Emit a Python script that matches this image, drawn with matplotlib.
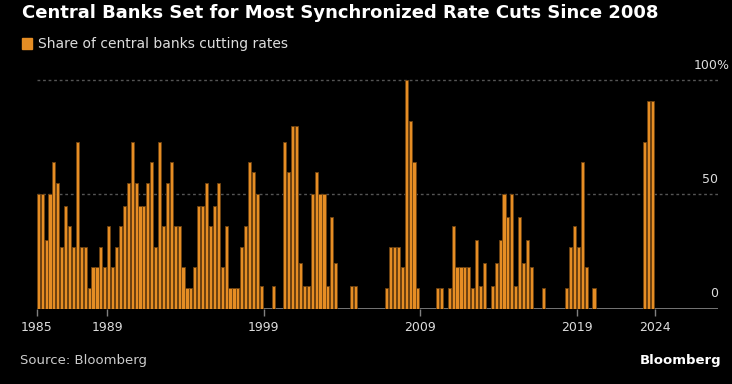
import matplotlib
matplotlib.use('Agg')
import matplotlib.pyplot as plt
from matplotlib.patches import Rectangle

# share of central banks cutting rates, quarterly, first bar = 1984 Q3
share = [50, 50, 30, 50, 64, 55, 27, 45, 36, 27, 73, 27, 27, 9, 18, 18,
         27, 18, 36, 18, 27, 36, 45, 55, 73, 55, 45, 45, 55, 64, 27, 73,
         36, 55, 64, 36, 36, 18, 9, 9, 18, 45, 45, 55, 36, 45, 55, 18,
         36, 9, 9, 9, 27, 36, 64, 60, 50, 10, 0, 0, 10, 0, 0, 73,
         60, 80, 80, 20, 10, 10, 50, 60, 50, 50, 10, 40, 20, 0, 0, 0,
         10, 10, 0, 0, 0, 0, 0, 0, 0, 9, 27, 27, 27, 18, 100, 82,
         64, 9, 0, 0, 0, 0, 9, 9, 0, 9, 36, 18, 18, 18, 18, 9,
         30, 10, 20, 0, 10, 20, 30, 50, 40, 50, 10, 40, 20, 30, 18, 0,
         0, 9, 0, 0, 0, 0, 0, 9, 27, 36, 27, 64, 18, 0, 9, 0,
         0, 0, 0, 0, 0, 0, 0, 0, 0, 0, 0, 73, 91, 91]

tick_labels = ['1985', '1989', '1999', '2009', '2019', '2024']
tick_pos = [0, 18, 58, 98, 138, 158]

orange = '#e58d24'
x = list(range(len(share)))

fig = plt.figure(figsize=(7.32, 3.84), dpi=100, facecolor='black')
ax = fig.add_axes([0.0501, 0.1966, 0.9304, 0.6003])
ax.set_facecolor('black')

ax.axhline(0, color='#808080', lw=2, zorder=1)
for g in [50, 100]:
    ax.axhline(g, color='#555555', lw=1, ls=(0, (2, 2)), zorder=0)

ax.bar(x, share, width=0.8, align='edge', color=orange, edgecolor='#6e4210',
       linewidth=0.6, zorder=2)

ax.set_xlim(0, 174)
ax.set_ylim(0, 101)
for s in ax.spines.values():
    s.set_visible(False)
ax.set_yticks([])
ax.set_xticks(tick_pos, tick_labels)
ax.tick_params(axis='x', colors='#808080', length=5, width=1,
               labelcolor='#dddddd', labelsize=9, pad=4)

# y labels above gridlines, on the right
for v in [0, 50, 100]:
    ax.annotate(str(v), xy=(1, v), xycoords=('axes fraction', 'data'),
                xytext=(0, 10.5), textcoords='offset points', ha='right',
                va='center', color='#dddddd', fontsize=9)
ax.annotate('%', xy=(1, 100), xycoords=('axes fraction', 'data'),
            xytext=(-0.8, 10.5), textcoords='offset points', ha='left',
            va='center', color='#dddddd', fontsize=9)

fig.text(0.030, 0.966, 'Central Banks Set for Most Synchronized Rate Cuts Since 2008',
         color='white', fontsize=13, weight='bold', va='center')
fig.add_artist(Rectangle((22 / 732, 1 - 49 / 384), 10 / 732, 11 / 384,
                         transform=fig.transFigure, color=orange))
fig.text(0.0519, 0.885, 'Share of central banks cutting rates',
         color='#dddddd', fontsize=10, va='center')
fig.text(0.027, 0.062, 'Source: Bloomberg', color='#cccccc', fontsize=9.5, va='center')
fig.text(0.986, 0.061, 'Bloomberg', color='white', fontsize=9.5,
         weight='bold', ha='right', va='center')

fig.savefig('out.png', dpi=100, facecolor='black')
